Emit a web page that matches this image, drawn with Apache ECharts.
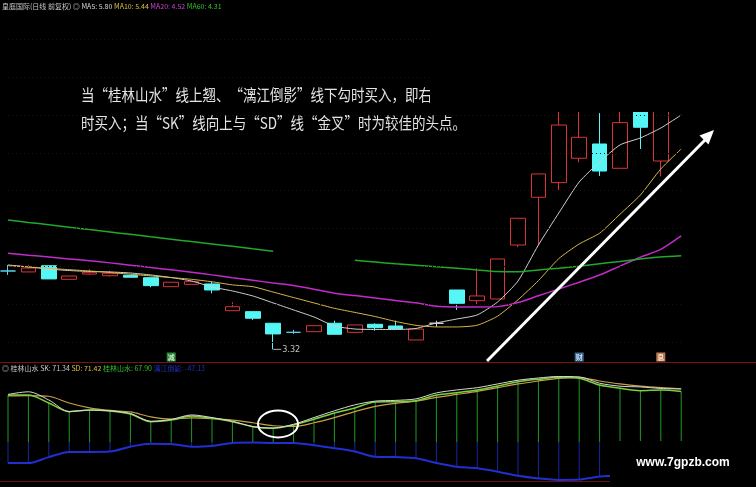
<!DOCTYPE html>
<html><head><meta charset="utf-8">
<script src="https://cdn.jsdelivr.net/npm/echarts@6/dist/echarts.min.js"></script>
<style>html,body{margin:0;padding:0;background:#000}#c{width:756px;height:487px}</style>
</head><body><div id="c"></div>
<script>
// ---------- data ----------
const categories = ['1','2','3','4','5','6','7','8','9','10','11','12','13','14','15','16','17','18','19','20','21','22','23','24','25','26','27','28','29','30','31','32','33','34'];
const opens  = [4.149,4.139,4.205,4.061,4.117,4.099,4.104,4.078,3.983,4.008,4.012,3.729,3.719,3.596,3.500,3.507,3.596,3.500,3.585,3.567,3.419,3.596,3.948,3.835,3.853,4.424,4.929,5.084,5.342,5.493,5.236,5.950,5.313,6.000];
const closes = [4.149,4.180,4.065,4.096,4.135,4.125,4.083,3.994,4.030,4.036,3.948,3.771,3.649,3.483,3.500,3.570,3.479,3.578,3.549,3.535,3.535,3.596,3.807,3.885,4.276,4.707,5.176,5.694,5.564,5.207,5.719,5.670,5.980,6.420];
const lows   = [4.107,4.139,4.065,4.061,4.107,4.090,4.083,3.977,3.983,4.008,3.913,3.729,3.631,3.320,3.483,3.507,3.479,3.500,3.517,3.535,3.419,3.559,3.737,3.789,3.853,4.400,4.424,5.006,5.300,5.155,5.236,5.440,5.150,5.950];
const highs  = [4.213,4.213,4.205,4.096,4.167,4.150,4.104,4.078,4.030,4.036,4.036,3.818,3.719,3.596,3.525,3.570,3.623,3.578,3.596,3.623,3.535,3.623,3.948,4.178,4.276,4.707,5.176,5.950,5.950,5.820,5.950,6.000,6.050,6.500];
const ma5  = [4.213,4.192,4.170,4.154,4.144,4.139,4.128,4.107,4.080,4.043,3.980,3.938,3.885,3.811,3.737,3.662,3.567,3.535,3.530,3.530,3.541,3.599,3.641,3.684,3.821,4.043,4.424,4.763,5.091,5.303,5.483,5.557,5.662,5.800];
const ma10 = [4.205,4.192,4.177,4.163,4.149,4.133,4.115,4.097,4.079,4.061,4.035,4.002,3.983,3.926,3.868,3.811,3.754,3.711,3.667,3.615,3.574,3.557,3.557,3.575,3.671,3.844,4.047,4.280,4.435,4.549,4.750,4.953,5.229,5.440];
const ma20 = [4.337,4.316,4.297,4.277,4.257,4.235,4.211,4.185,4.161,4.135,4.108,4.078,4.051,4.022,3.995,3.956,3.914,3.889,3.863,3.837,3.812,3.775,3.768,3.768,3.772,3.815,3.887,3.959,4.030,4.106,4.201,4.294,4.377,4.520];
const ma60 = [4.689,4.663,4.638,4.613,4.587,4.562,4.537,4.511,4.486,4.460,4.435,4.410,4.384,4.359,null,null,null,4.262,4.244,4.226,4.211,4.194,4.178,4.160,4.144,4.142,4.160,4.178,4.199,4.226,4.250,4.276,4.297,4.310];
const sk = [64.0,67.5,56.5,41.0,43.0,42.0,38.5,28.0,30.5,36.5,33.0,28.0,21.0,19.0,24.0,33.0,42.0,50.0,55.0,56.0,58.0,66.0,70.0,73.0,78.0,83.0,86.0,88.0,87.5,79.0,75.0,74.0,72.0,71.34];
const sd = [62.0,62.5,61.5,52.5,46.0,42.5,40.5,34.0,31.0,32.5,31.5,29.5,26.0,22.0,21.0,26.0,33.0,41.0,48.0,52.0,55.0,60.0,64.0,68.0,73.0,78.0,82.0,85.5,86.5,82.0,78.0,75.0,73.0,71.42];
const glss = [63.2,63.2,52.5,40.9,43.1,41.8,37.8,27.5,29.7,35.1,32.0,27.5,20.8,18.6,23.0,30.7,39.1,45.8,53.9,54.3,55.6,63.2,66.3,69.9,75.3,81.0,84.3,86.9,85.6,76.6,72.2,69.0,69.9,67.90];
const ljdy = [-28,-28,-20,-13,-13,-12.5,-6,-2,-2.5,-6,-5,-1,-0.5,-1,-1,-4,-8,-12.5,-19.5,-20,-21.5,-28,-33,-35,-39.5,-45,-48.5,-50.5,-50,-46,-45,-46,-47,-47.13];
const gridPrices = [3.4,3.8,4.2,4.6,5.0,5.4,5.8,6.2,6.6];
const eventMarks = [{i:8, t:'减'}, {i:28, t:'财'}, {i:32, t:'息'}];
const dojiColors = {0:'#5ad2f0', 14:'#5ad2f0', 21:'#d8d8d8'};

// ---------- chart ----------
const chart = echarts.init(document.getElementById('c'), null, {renderer:'canvas'});
const UP = '#d8343c', DOWN = '#54f6f6';
const candleData = opens.map((o,i)=>{
  const it = {value:[o, closes[i], lows[i], highs[i]]};
  if (dojiColors[i]) { const c = dojiColors[i]; it.itemStyle = {color:c, color0:c, borderColor:c, borderColor0:c}; }
  return it;
});
const last = a => a[a.length-1].toFixed(2);
const FONT = '"Noto Sans CJK SC", sans-serif';
const hideAxis = {axisLine:{show:false}, axisTick:{show:false}, axisLabel:{show:false}, splitLine:{show:false}};

chart.setOption({
  backgroundColor:'#000',
  animation:false,
  grid:[
    {left:8, right:74.8, top:10, height:352},
    {left:8, right:74.8, top:375, height:106}
  ],
  xAxis:[
    Object.assign({type:'category', data:categories, boundaryGap:false, gridIndex:0}, hideAxis),
    Object.assign({type:'category', data:categories, boundaryGap:false, gridIndex:1}, hideAxis)
  ],
  yAxis:[
    Object.assign({type:'value', min:3.186, max:6.911, gridIndex:0, scale:true}, hideAxis),
    Object.assign({type:'value', min:-52, max:90, gridIndex:1}, hideAxis)
  ],
  series:[
    {type:'candlestick', name:'K', xAxisIndex:0, yAxisIndex:0, data:candleData, barWidth:15, clip:false,
     itemStyle:{color:'#000', color0:DOWN, borderColor:UP, borderColor0:DOWN, borderWidth:1},
     markLine:{silent:true, symbol:'none', label:{show:false},
       lineStyle:{color:'#2c0909', type:[1,3], width:1},
       data: gridPrices.map(v=>({yAxis:v}))},
     markPoint:{silent:true, symbol:'rect', symbolSize:[8,1], symbolOffset:[4,0],
       itemStyle:{color:'#b0b0b0'},
       label:{show:true, position:'right', distance:1, color:'#c0c0c0', fontSize:9, fontFamily:'DejaVu Sans Condensed, sans-serif',
         formatter:p=>Number(p.value).toFixed(2)},
       data:[{coord:[13, lows[13]], value:lows[13]}]}
    },
    {type:'line', name:'MA5', data:ma5, symbol:'none', smooth:0.2, lineStyle:{color:'#d0d0d0', width:1}, z:3},
    {type:'line', name:'MA10', data:ma10, symbol:'none', smooth:0.2, lineStyle:{color:'#d8b84a', width:1}, z:3},
    {type:'line', name:'MA20', data:ma20, symbol:'none', smooth:0.2, lineStyle:{color:'#c02cc8', width:1.5}, z:3},
    {type:'line', name:'MA60', data:ma60, symbol:'none', smooth:0.2, connectNulls:false, lineStyle:{color:'#22a82a', width:1.5}, z:3},
    {type:'bar', name:'桂林山水柱', xAxisIndex:1, yAxisIndex:1, data:glss, barWidth:1, stack:'s', itemStyle:{color:'#1f9a24'}},
    {type:'bar', name:'漓江倒影柱', xAxisIndex:1, yAxisIndex:1, data:ljdy, barWidth:1, stack:'s', itemStyle:{color:'#1a26a0'}},
    {type:'line', name:'漓江倒影', xAxisIndex:1, yAxisIndex:1, data:ljdy, symbol:'none', smooth:0.3, lineStyle:{color:'#1f2fd0', width:2}},
    {type:'line', name:'SD', xAxisIndex:1, yAxisIndex:1, data:sd, symbol:'none', smooth:0.3, lineStyle:{color:'#c8a04a', width:1.2}},
    {type:'line', name:'桂林山水', xAxisIndex:1, yAxisIndex:1, data:glss, symbol:'none', smooth:0.3, lineStyle:{color:'#7ad23a', width:1.5}},
    {type:'line', name:'SK', xAxisIndex:1, yAxisIndex:1, data:sk, symbol:'none', smooth:0.3, lineStyle:{color:'#d8d8d8', width:1}}
  ]
});

// ---------- annotations ----------
const g = [];
g.push({type:'line', shape:{x1:0,y1:362.5,x2:756,y2:362.5}, style:{stroke:'#7a1414', lineWidth:1}, z:20});
g.push({type:'line', shape:{x1:0,y1:481.5,x2:756,y2:481.5}, style:{stroke:'#6a1010', lineWidth:1}, z:20});
eventMarks.forEach(m=>{
  const px = chart.convertToPixel({xAxisIndex:0}, m.i);
  const bg = m.t==='减' ? '#2a8a3a' : (m.t==='财' ? '#3a6a9a' : '#c07a50');
  g.push({type:'text', x:px, y:357, z:30, style:{text:m.t, font:'7px '+FONT, fill:'#fff', align:'center', verticalAlign:'middle',
    backgroundColor:bg, padding:[1,1]}});
});
g.push({type:'text', x:2, y:6, z:30, style:{
  text:'{a|皇庭国际(日线 前复权)} {o|◎} {w|MA5: '+last(ma5)+'} {y|MA10: '+last(ma10)+'} {m|MA20: '+last(ma20)+'} {g|MA60: '+last(ma60)+'}',
  verticalAlign:'middle', font:'7px '+FONT,
  rich:{a:{fill:'#c8c8c8', font:'7px '+FONT}, o:{fill:'#c8c8c8', font:'7px '+FONT}, w:{fill:'#d8d8d8', font:'7px '+FONT},
        y:{fill:'#d8c040', font:'7px '+FONT}, m:{fill:'#d040d0', font:'7px '+FONT}, g:{fill:'#30c030', font:'7px '+FONT}}}});
g.push({type:'text', x:2, y:368, z:30, style:{
  text:'{o|◎} {a|桂林山水 SK: '+last(sk)+'} {y|SD: '+last(sd)+'} {g|桂林山水: '+last(glss)+'} {b|漓江倒影: '+last(ljdy)+'}',
  verticalAlign:'middle', font:'7px '+FONT,
  rich:{o:{fill:'#c8c8c8', font:'7px '+FONT}, a:{fill:'#c8c8c8', font:'7px '+FONT}, y:{fill:'#d8c040', font:'7px '+FONT},
        g:{fill:'#30c030', font:'7px '+FONT}, b:{fill:'#2030c0', font:'7px '+FONT}}}});
g.push({type:'text', x:81, y:95, scaleY:1.15, z:40, style:{text:'当“桂林山水”线上翘、“漓江倒影”线下勾时买入，即右',
  font:'13.5px '+FONT, fill:'#e4e4e4', verticalAlign:'middle'}});
g.push({type:'text', x:81, y:123, scaleY:1.15, z:40, style:{text:'时买入；当“SK”线向上与“SD”线“金叉”时为较佳的头点。',
  font:'13.5px '+FONT, fill:'#e4e4e4', verticalAlign:'middle'}});
g.push({type:'rect', shape:{x:430,y:0,width:326,height:112}, style:{fill:'#000'}, z:100});
g.push({type:'line', shape:{x1:487,y1:361,x2:707,y2:138}, style:{stroke:'#ffffff', lineWidth:3}, z:60});
g.push({type:'polygon', shape:{points:[[714,130],[699.5,135.5],[708.5,144.5]]}, style:{fill:'#ffffff'}, z:60});
g.push({type:'ellipse', shape:{cx:278, cy:424, rx:20, ry:13.5}, style:{stroke:'#ffffff', lineWidth:2, fill:null}, z:60});
g.push({type:'rect', shape:{x:610,y:441,width:146,height:46}, style:{fill:'#000'}, z:100});
g.push({type:'text', x:683, y:463, z:101, style:{text:'www.7gpzb.com', font:'bold 12px "Liberation Sans", Arial, sans-serif',
  fill:'#ffffff', align:'center', verticalAlign:'middle'}});
chart.setOption({graphic:{elements:g}});
</script></body></html>
